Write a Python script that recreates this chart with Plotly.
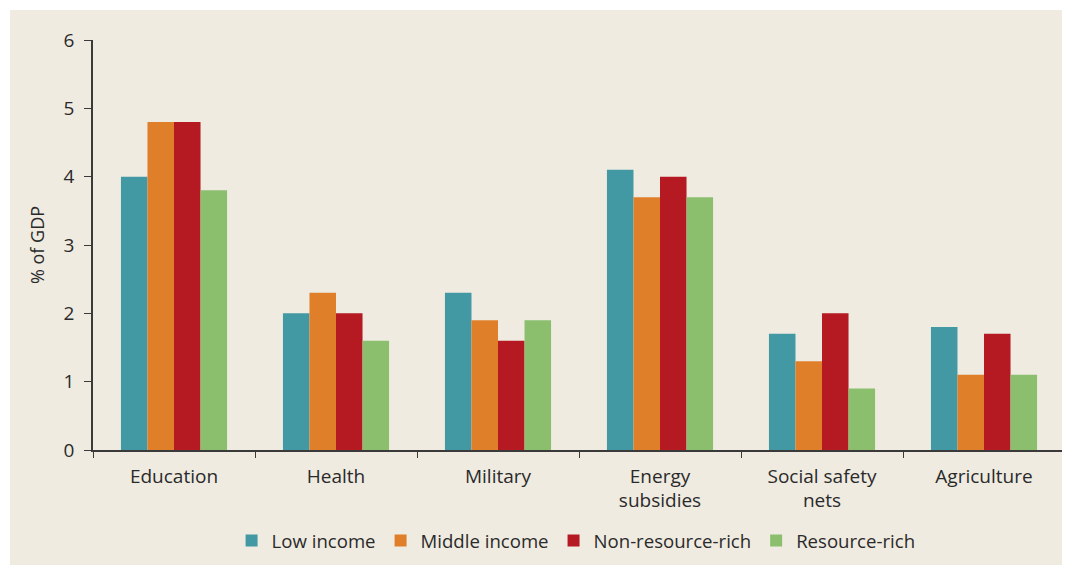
import plotly.graph_objects as go

categories = ["Education", "Health", "Military", "Energy<br>subsidies", "Social safety<br>nets", "Agriculture"]
series_names = ["Low income", "Middle income", "Non-resource-rich", "Resource-rich"]
low_income = [4.0, 2.0, 2.3, 4.1, 1.7, 1.8]
middle_income = [4.8, 2.3, 1.9, 3.7, 1.3, 1.1]
non_resource_rich = [4.8, 2.0, 1.6, 4.0, 2.0, 1.7]
resource_rich = [3.8, 1.6, 1.9, 3.7, 0.9, 1.1]
colors = ["#4299a3", "#e07f2a", "#b51a22", "#8bbf6e"]

fig = go.Figure()
for name, vals, col in zip(series_names, [low_income, middle_income, non_resource_rich, resource_rich], colors):
    fig.add_trace(go.Bar(x=categories, y=vals, name=name, marker=dict(color=col, line=dict(width=0))))

bg = "#efebe1"
axcol = "#3a3a3a"
fig.update_layout(
    width=1070, height=565,
    paper_bgcolor=bg, plot_bgcolor=bg,
    margin=dict(l=85, r=13, t=32, b=123),
    barmode="group", bargap=0.345, bargroupgap=0,
    font=dict(family="Open Sans", color="#2a2a2a", size=19),
    showlegend=True,
    legend=dict(orientation="h", x=0.497, xanchor="center", y=-0.222, yanchor="middle",
                font=dict(size=18.6), bgcolor="rgba(0,0,0,0)", itemwidth=30, traceorder="normal"),
    shapes=[
        dict(type="rect", xref="paper", yref="paper", x0=-0.2, x1=1.2, y0=1.0732, y1=1.2,
             fillcolor="white", line=dict(width=0), layer="below"),
        dict(type="rect", xref="paper", yref="paper", x0=-0.2, x1=-0.0854, y0=-0.5, y1=1.2,
             fillcolor="white", line=dict(width=0), layer="below"),
    ],
)
fig.update_xaxes(showline=True, linecolor=axcol, linewidth=1.5, ticks="outside", ticklen=6,
                 tickcolor=axcol, tickson="boundaries", showgrid=False, tickfont=dict(size=19),
                 ticklabelstandoff=8)
fig.update_yaxes(range=[0, 6], dtick=1, showline=True, linecolor=axcol, linewidth=1.5, ticks="outside",
                 ticklen=7, tickcolor=axcol, showgrid=False, zeroline=False, tickfont=dict(size=19),
                 ticklabelstandoff=6,
                 title=dict(text="% of GDP", font=dict(size=18), standoff=14))
fig.write_html("out.html")
